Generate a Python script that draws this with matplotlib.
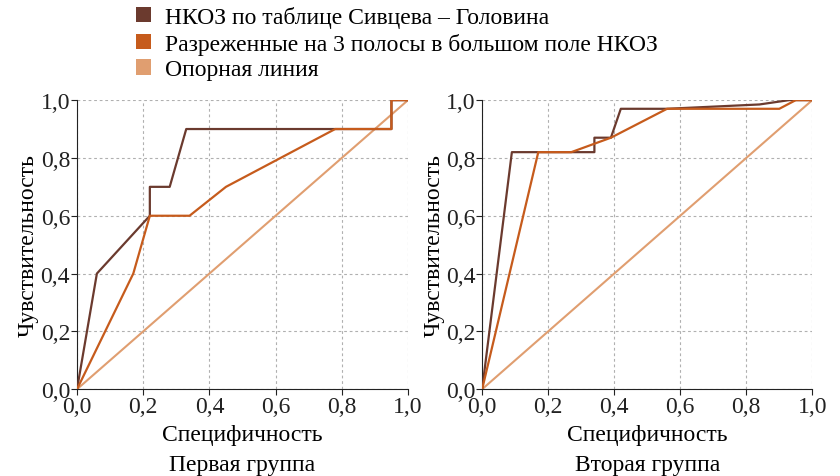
import matplotlib
matplotlib.use("Agg")
import matplotlib.pyplot as plt
from matplotlib.patches import Patch

plt.rcParams['font.family'] = ['Liberation Serif', 'DejaVu Serif']

series_names = ["НКОЗ по таблице Сивцева – Головина",
                "Разреженные на 3 полосы в большом поле НКОЗ",
                "Опорная линия"]
colors = ["#6b3a2e", "#c65b1c", "#e09e70"]

# первая группа: (1 - специфичность, чувствительность)
g1_table_x = [0, 0.06, 0.22, 0.22, 0.28, 0.33, 0.78, 0.95, 0.95, 1.0]
g1_table_y = [0, 0.40, 0.60, 0.70, 0.70, 0.90, 0.90, 0.90, 1.00, 1.0]
g1_sparse_x = [0, 0.17, 0.22, 0.34, 0.45, 0.78, 0.95, 0.95, 1.0]
g1_sparse_y = [0, 0.40, 0.60, 0.60, 0.70, 0.90, 0.90, 1.00, 1.0]

# вторая группа
g2_table_x = [0, 0.09, 0.34, 0.34, 0.39, 0.42, 0.56, 0.84, 0.93, 1.0]
g2_table_y = [0, 0.82, 0.82, 0.87, 0.87, 0.97, 0.97, 0.985, 1.0, 1.0]
g2_sparse_x = [0, 0.17, 0.27, 0.39, 0.56, 0.90, 0.95, 1.0]
g2_sparse_y = [0, 0.82, 0.82, 0.87, 0.97, 0.97, 1.0, 1.0]

ref_x = [0, 1]
ref_y = [0, 1]

ticks = [0, 0.2, 0.4, 0.6, 0.8, 1.0]
tick_labels = ["0,0", "0,2", "0,4", "0,6", "0,8", "1,0"]
group_names = ["Первая группа", "Вторая группа"]

fs = 17

fig = plt.figure(figsize=(8.4, 4.77), dpi=100)
ax1 = fig.add_axes([0.0917, 0.182, 0.394, 0.606])
ax2 = fig.add_axes([0.574, 0.182, 0.393, 0.606])

data = [(g1_table_x, g1_table_y, g1_sparse_x, g1_sparse_y),
        (g2_table_x, g2_table_y, g2_sparse_x, g2_sparse_y)]

for ax, (tx, ty, sx, sy), name in zip([ax1, ax2], data, group_names):
    ax.plot(ref_x, ref_y, color=colors[2], lw=1.5, zorder=2)
    ax.plot(tx, ty, color=colors[0], lw=1.6, zorder=3)
    ax.plot(sx, sy, color=colors[1], lw=1.6, zorder=4)
    ax.set_xlim(0, 1)
    ax.set_ylim(0, 1)
    ax.set_xticks(ticks)
    ax.set_yticks(ticks)
    ax.set_xticklabels(tick_labels, fontsize=fs)
    ax.set_yticklabels(tick_labels, fontsize=fs)
    ax.grid(True, linestyle=(0, (2.5, 2.5)), color="#b0b0b0", lw=0.8)
    ax.spines['top'].set_visible(False)
    ax.spines['right'].set_visible(False)
    ax.spines['left'].set_color("#222222")
    ax.spines['bottom'].set_color("#222222")
    ax.tick_params(direction='out', length=4, width=0.8, pad=1, colors="#222222")
    ax.set_xlabel("Специфичность\n" + name, fontsize=fs, labelpad=5, linespacing=1.55)
    ax.set_ylabel("Чувствительность", fontsize=fs, labelpad=1)

handles = [Patch(facecolor=c, edgecolor='none') for c in colors]
fig.legend(handles, series_names, loc='upper left', bbox_to_anchor=(0.145, 1.015),
           frameon=False, fontsize=fs, handlelength=0.62, handleheight=0.62,
           handletextpad=0.6, labelspacing=0.2, borderaxespad=0.2)

fig.savefig("out.png", dpi=100)
